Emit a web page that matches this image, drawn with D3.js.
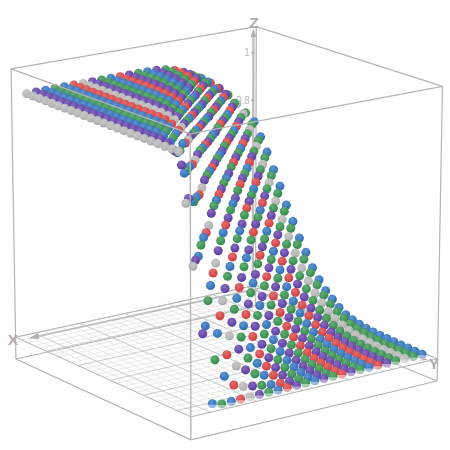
<!DOCTYPE html>
<html><head><meta charset="utf-8">
<script src="https://cdnjs.cloudflare.com/ajax/libs/d3/7.8.5/d3.min.js"></script>
<style>html,body{margin:0;padding:0;background:#fff}svg{display:block}text{font-family:"Liberation Sans",Arial,sans-serif}</style>
</head><body><svg id="c" width="450" height="450"></svg>
<script>
// Strip index runs from the back (0) to the front (25) along the x axis; one array per strip, values along y.
const stripColors = ["blue","green","grey","green","purple","red","blue","green","purple","red","green","purple","blue","green","purple","red","blue","green","purple","grey","red","blue","green","blue","purple","grey"];
const z00=[.705,.65,.595,.53,.47,.40,.34,.28,.23,.175,.135,.10,.075,.052,.033,.023,.016,.01,.008,.005,.004,.003,.002,.001,0,0];
const z01=[.75,.71,.652,.589,.523,.457,.392,.33,.272,.22,.174,.134,.101,.075,.054,.038,.026,.018,.012,.007,.005,.003,.002,.001,0,0];
const z02=[.795,.763,.706,.645,.579,.511,.443,.376,.313,.255,.203,.159,.119,.088,.064,.045,.031,.021,.014,.009,.005,.003,.002,.001,0,0];
const z03=[.84,.815,.764,.705,.641,.573,.503,.432,.364,.30,.241,.189,.145,.108,.079,.056,.038,.026,.017,.011,.007,.004,.002,.001,0,0];
const z04=[.875,.86,.816,.763,.702,.636,.565,.492,.419,.349,.284,.225,.174,.131,.095,.068,.047,.031,.021,.013,.008,.004,.002,.001,0,0];
const z05=[.905,.89,.863,.817,.762,.70,.63,.557,.481,.406,.334,.268,.209,.159,.117,.084,.058,.039,.026,.016,.01,.006,.003,.001,0,0];
const z06=[.93,.925,.903,.866,.818,.761,.696,.624,.547,.469,.391,.318,.251,.192,.143,.104,.072,.048,.031,.02,.012,.007,.004,.002,0,0];
const z07=[.95,.95,.938,.908,.871,.822,.763,.695,.62,.54,.458,.378,.303,.236,.177,.129,.09,.062,.04,.026,.015,.009,.005,.002,0,0];
const z08=[.97,.97,.963,.943,.914,.875,.826,.765,.695,.617,.533,.448,.365,.288,.22,.162,.115,.079,.052,.033,.02,.012,.007,.003,0,0];
const z09=[.985,.985,.98,.967,.947,.918,.879,.829,.766,.692,.611,.523,.434,.349,.271,.202,.145,.10,.067,.043,.026,.015,.008,.004,0,0];
const z10=[.995,.995,.991,.983,.971,.952,.924,.885,.832,.767,.691,.604,.513,.421,.333,.253,.185,.129,.087,.055,.034,.02,.011,.006,0,0];
const z11=[.999,.998,.996,.992,.985,.973,.954,.926,.885,.832,.764,.682,.591,.495,.399,.309,.229,.162,.109,.071,.043,.025,.014,.007,.001,0];
const z12=[1,1,.999,.997,.994,.988,.977,.96,.932,.893,.838,.767,.682,.587,.486,.386,.293,.212,.145,.095,.058,.034,.019,.009,.002,0];
const z13=[1,1,1,.999,.998,.995,.991,.981,.965,.938,.898,.841,.769,.68,.58,.473,.369,.273,.192,.127,.079,.046,.026,.012,.003,0];
const z14=[1,1,1,1,1,.999,.997,.992,.984,.969,.943,.903,.844,.768,.673,.566,.454,.345,.248,.168,.106,.063,.035,.017,.004,0];
const z15=[1,1,1,1,1,1,.999,.998,.994,.987,.973,.948,.908,.851,.769,.67,.556,.437,.324,.225,.147,.088,.05,.025,.006,0];
const z16=[1,1,1,1,1,1,1,1,.998,.996,.99,.978,.954,.916,.855,.772,.665,.544,.418,.30,.20,.123,.071,.035,.01,0];
const z17=[1,1,1,1,1,1,1,1,1,.999,.997,.992,.982,.961,.922,.862,.774,.661,.531,.398,.276,.175,.102,.05,.016,0];
const z18=[1,1,1,1,1,1,1,1,1,1,1,.998,.994,.985,.966,.928,.864,.772,.65,.51,.369,.244,.147,.075,.022,0];
const z19=[1,1,1,1,1,1,1,1,1,1,1,1,1,.997,.99,.97,.93,.86,.76,.62,.48,.34,.21,.10,.03,0];
const z20=[1,1,1,1,1,1,1,1,1,1,1,1,1,1,.998,.99,.975,.935,.86,.75,.61,.46,.30,.155,.045,0];
const z21=[1,1,1,1,1,1,1,1,1,1,1,1,1,1,1,1,.995,.98,.95,.87,.76,.61,.43,.25,.09,0];
const z22=[1,1,1,1,1,1,1,1,1,1,1,1,1,1,1,1,1,.997,.98,.94,.87,.76,.60,.39,.165,0];
const z23=[1,1,1,1,1,1,1,1,1,1,1,1,1,1,1,1,1,1,.995,.98,.95,.88,.78,.575,.31,.01];
const z24=[1,1,1,1,1,1,1,1,1,1,1,1,1,1,1,1,1,1,1,1,.995,.975,.93,.81,.58,.30];
const z25=[1,1,1,1,1,1,1,1,1,1,1,1,1,1,1,1,1,1,1,1,1,1,1,1,.81,.575];
const zRows=[z00,z01,z02,z03,z04,z05,z06,z07,z08,z09,z10,z11,z12,z13,z14,z15,z16,z17,z18,z19,z20,z21,z22,z23,z24,z25];
const zTicks=[0.8,1];

const palette={blue:"#3a79c1",green:"#3f9756",grey:"#b9b9b9",purple:"#6849ad",red:"#da4b4b"};

// Camera: a projective map of the unit box fitted to the box corners.
const anchors=[
 [0,0,1,257,26],[1,0,1,442,86],[0,1,1,11,69],[1,1,1,190,135],
 [1,0,0,438,380],[0,1,0,15.7,358],[1,1,0,191,442],
 [0,0,.077,255,289],[1,0,.077,437,357],[0,1,.077,15.7,335],[1,1,.077,191,417]];
// The beads sit a little nearer the viewer at the front corner than the frame fit alone gives.
const beadAnchors=anchors.map(([u,v,w,sx,sy])=>(u===1&&v===1)?[u,v,w,sx,sy+4.5]:[u,v,w,sx,sy]);
function fitCamera(pts){
 const A=[],b=[];
 pts.forEach(([u,v,w,sx,sy])=>{
  A.push([u,v,w,1,0,0,0,0,-sx*u,-sx*v,-sx*w]);b.push(sx);
  A.push([0,0,0,0,u,v,w,1,-sy*u,-sy*v,-sy*w]);b.push(sy);
 });
 const n=11,M=d3.range(n).map(r=>d3.range(n+1).map(c=>{
  let s=0;A.forEach((row,k)=>{s+=row[r]*(c<n?row[c]:b[k]);});return s;}));
 for(let c=0;c<n;c++){
  let p=c;for(let r=c+1;r<n;r++)if(Math.abs(M[r][c])>Math.abs(M[p][c]))p=r;
  [M[c],M[p]]=[M[p],M[c]];
  for(let r=0;r<n;r++){if(r===c)continue;const f=M[r][c]/M[c][c];for(let k=c;k<=n;k++)M[r][k]-=f*M[c][k];}
 }
 return M.map((row,i)=>row[n]/row[i]);
}
const H=fitCamera(anchors), HB=fitCamera(beadAnchors);
function projectWith(H,u,v,w){
 const d=H[8]*u+H[9]*v+H[10]*w+1;
 return [(H[0]*u+H[1]*v+H[2]*w+H[3])/d,(H[4]*u+H[5]*v+H[6]*w+H[7])/d];
}
const project=(u,v,w)=>projectWith(H,u,v,w);
// Data scales onto the unit box
const f=0.077;
const yIndex=d3.scaleLinear().domain([0,25]).range([0,0.93]);
const xIndex=d3.scaleLinear().domain([0,25]).range([0.008,0.94]);
const zScale=d3.scaleLinear().domain([0,1]).range([f,f+0.833]);

const svg=d3.select("#c");
const defs=svg.append("defs");
Object.entries(palette).forEach(([k,c])=>{
 const g=defs.append("radialGradient").attr("id","s-"+k).attr("cx","40%").attr("cy","32%").attr("r","72%");
 g.append("stop").attr("offset","0%").attr("stop-color",d3.interpolateRgb(c,"#fff")(.2));
 g.append("stop").attr("offset","65%").attr("stop-color",c);
 g.append("stop").attr("offset","100%").attr("stop-color",d3.rgb(c).darker(.4));
});
const edgeCol="#b4b4b4";
const seg=(g,a,b,w,col,op)=>{const p=project(...a),q=project(...b);
 g.append("line").attr("x1",p[0]).attr("y1",p[1]).attr("x2",q[0]).attr("y2",q[1]).attr("stroke",col).attr("stroke-width",w).attr("stroke-opacity",op==null?1:op);};
const arrow=(g,base,tip,half)=>{const p=project(...base),q=project(...tip);
 const dx=q[0]-p[0],dy=q[1]-p[1],l=Math.hypot(dx,dy),nx=-dy/l*half,ny=dx/l*half;
 g.append("path").attr("d",`M${p[0]+nx},${p[1]+ny}L${q[0]},${q[1]}L${p[0]-nx},${p[1]-ny}Z`).attr("fill","#b0b0b0");};

const back=svg.append("g");
// back edges of the box
[[[0,0,0],[1,0,0]],[[0,0,0],[0,1,0]],[[0,0,0],[0,0,1]],[[0,0,1],[1,0,1]],[[0,0,1],[0,1,1]],
 [[1,0,0],[1,0,1]],[[0,1,0],[0,1,1]],[[1,0,0],[1,1,0]],[[0,1,0],[1,1,0]]]
 .forEach(([a,b])=>seg(back,a,b,1.2,edgeCol));
// floor grid
const minorStep=.037,majorStep=.185;
d3.range(0,1.0001,minorStep).forEach(t=>{
 seg(back,[t,0,f],[t,1,f],.8,"#e0e0e0",.85);
 seg(back,[0,t,f],[1,t,f],.8,"#e0e0e0",.85);
});
d3.range(0,1.0001,majorStep).forEach(t=>{
 seg(back,[t,0,f],[t,1,f],.8,"#c0c0c0",.85);
 seg(back,[0,t,f],[1,t,f],.8,"#c0c0c0",.85);
});
[[[0,0,f],[1,0,f]],[[0,0,f],[0,1,f]],[[1,0,f],[1,1,f]],[[0,1,f],[1,1,f]]].forEach(([a,b])=>seg(back,a,b,1,"#b8b8b8"));
// axes
seg(back,[0,.012,f],[0,.012,.965],2.4,"#bdbdbd");
arrow(back,[0,.012,.965],[0,.012,.995],3);
seg(back,[0,.035,f],[.96,.035,f],1.8,"#bdbdbd");
arrow(back,[.96,.035,f],[.99,.035,f],3);
seg(back,[.035,0,f],[.035,.93,f],1.8,"#bdbdbd");
arrow(back,[.035,.93,f],[.035,.97,f],3);
zTicks.forEach(t=>{const p=project(0,.012,zScale(t));
 back.append("line").attr("x1",p[0]-2).attr("x2",p[0]).attr("y1",p[1]).attr("y2",p[1]).attr("stroke","#888");
 back.append("text").attr("x",p[0]-3.5).attr("y",p[1]+3.5).attr("text-anchor","end").attr("font-size",10).attr("fill","#bdbdbd").text(t);
});
const labels=[["Z",254,27.5],["X",13,345],["Y",434,369]];
labels.forEach(([t,x,y])=>back.append("text").attr("x",x).attr("y",y).attr("text-anchor","middle").attr("font-size",15.5).attr("font-weight","bold").attr("fill","#adadad").text(t));

// beads
const beads=[];
zRows.forEach((row,i)=>row.forEach((z,j)=>{
 const p=projectWith(HB,yIndex(j),xIndex(i),zScale(z));
 beads.push({i,j,z,c:stripColors[i],p});
}));
beads.sort((a,b)=>(a.i+a.j)-(b.i+b.j));
const R=4.5;
svg.append("g").selectAll("circle").data(beads).join("circle")
 .attr("cx",d=>d.p[0]).attr("cy",d=>d.p[1]).attr("r",R).attr("fill",d=>`url(#s-${d.c})`);
// the translucent floor veils the lower half of the beads lying on it at the front
svg.append("g").selectAll("path").data(beads.filter(d=>d.j===25&&d.z<.02)).join("path")
 .attr("d",d=>`M${d.p[0]-R},${d.p[1]+1}A${R},${R} 0 0 0 ${d.p[0]+R},${d.p[1]+1}Z`)
 .attr("fill","#fff").attr("fill-opacity",.5);

// front edges drawn over the beads
const front=svg.append("g");
[[[1,1,0],[1,1,1]],[[1,0,1],[1,1,1]],[[0,1,1],[1,1,1]]].forEach(([a,b])=>seg(front,a,b,1.3,edgeCol));
</script></body></html>
